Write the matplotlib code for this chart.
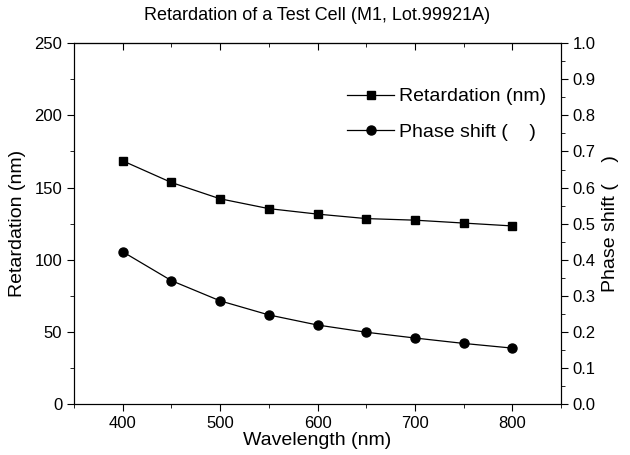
import matplotlib
matplotlib.use("Agg")
import matplotlib.pyplot as plt
from matplotlib.ticker import MultipleLocator

plt.rcParams['font.family'] = ['Liberation Sans', 'DejaVu Sans']

# data
wavelength = [400, 450, 500, 550, 600, 650, 700, 750, 800]
retardation = [168.5, 153.5, 142.2, 135.4, 131.6, 128.5, 127.4, 125.4, 123.4]
phase_shift = [0.422, 0.342, 0.286, 0.247, 0.219, 0.199, 0.183, 0.168, 0.155]

fig = plt.figure(figsize=(6.3, 4.55), dpi=100)
ax = fig.add_axes([0.1175, 0.112, 0.773, 0.793])
ax2 = ax.twinx()

l1, = ax.plot(wavelength, retardation, color='black', linewidth=0.9,
              marker='s', markersize=5.5, label='Retardation (nm)')
l2, = ax2.plot(wavelength, phase_shift, color='black', linewidth=0.9,
               marker='o', markersize=6.5, label='Phase shift (    )')

ax.set_xlim(350, 850)
ax.set_ylim(0, 250)
ax2.set_ylim(0, 1.0)

ax.xaxis.set_major_locator(MultipleLocator(100))
ax.xaxis.set_minor_locator(MultipleLocator(50))
ax.yaxis.set_major_locator(MultipleLocator(50))
ax.yaxis.set_minor_locator(MultipleLocator(25))
ax2.yaxis.set_major_locator(MultipleLocator(0.1))
ax2.yaxis.set_minor_locator(MultipleLocator(0.05))
ax2.yaxis.set_major_formatter(plt.FormatStrFormatter('%.1f'))

ax.tick_params(axis='both', which='major', direction='out', length=5, labelsize=12)
ax.tick_params(axis='both', which='minor', direction='out', length=3)
ax.tick_params(axis='x', which='both', top=False)
ax2.tick_params(axis='y', which='major', direction='out', length=5, labelsize=12)
ax2.tick_params(axis='y', which='minor', direction='out', length=3)

# top ticks point into the plot
sec = ax.secondary_xaxis('top')
sec.xaxis.set_major_locator(MultipleLocator(100))
sec.xaxis.set_minor_locator(MultipleLocator(50))
sec.tick_params(which='major', direction='in', length=5, labeltop=False)
sec.tick_params(which='minor', direction='in', length=3)

ax.set_xlabel('Wavelength (nm)', fontsize=14, labelpad=1)
ax.set_ylabel('Retardation (nm)', fontsize=14, labelpad=6)
ax2.set_ylabel('Phase shift (    )', fontsize=14, labelpad=4)
ax.set_title('Retardation of a Test Cell (M1, Lot.99921A)', fontsize=13, pad=17)

ax2.legend([l1, l2], ['Retardation (nm)', 'Phase shift (    )'],
           loc='upper left', bbox_to_anchor=(0.525, 0.925), frameon=False,
           fontsize=14, handlelength=2.4, handletextpad=0.25,
           labelspacing=0.9)

fig.savefig('out.png', dpi=100)
